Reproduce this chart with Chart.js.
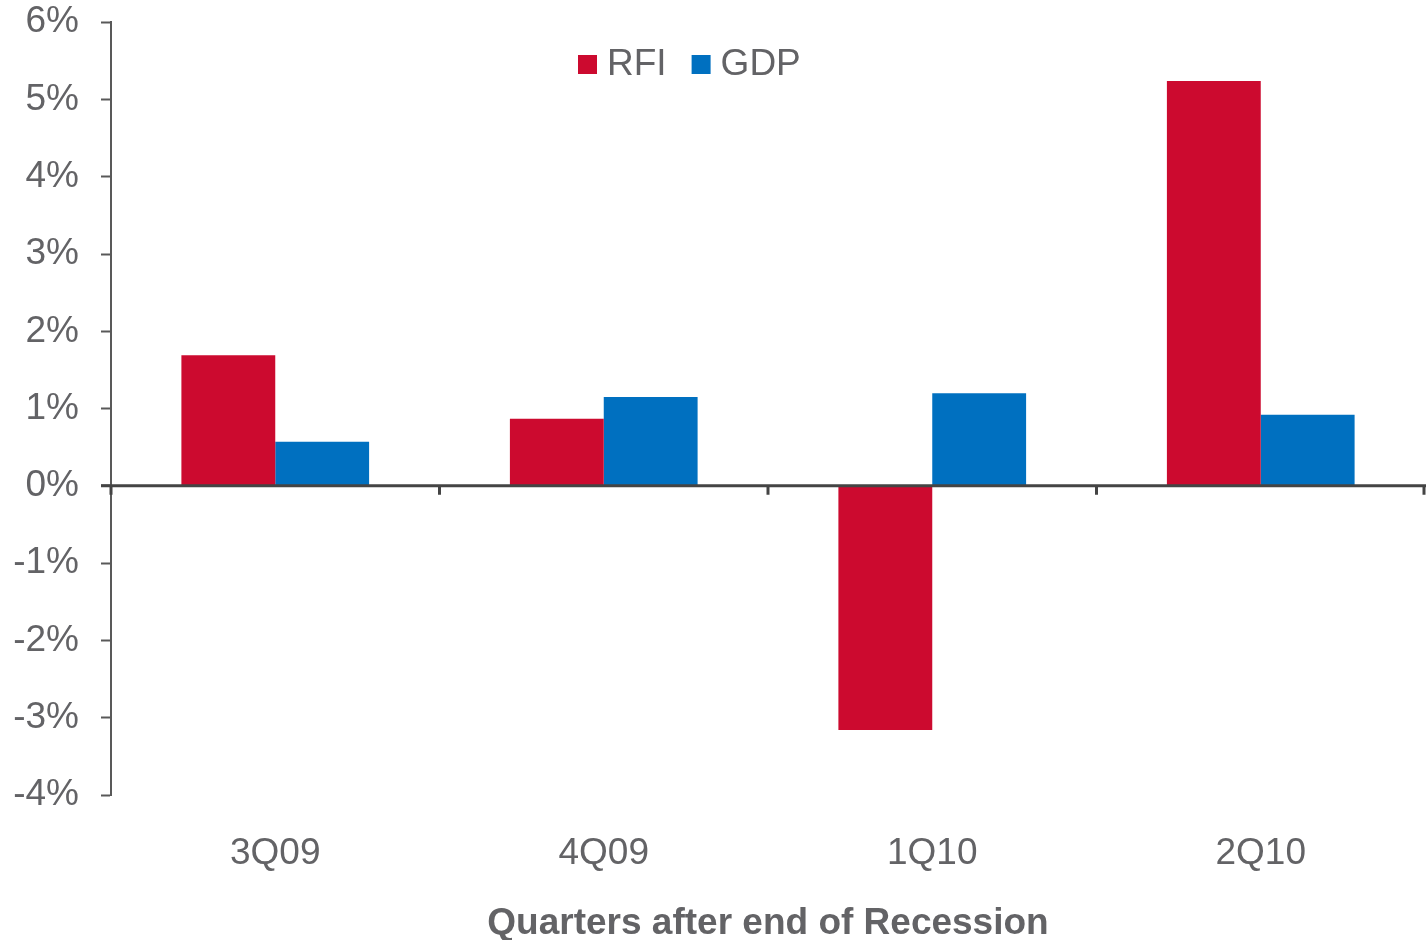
<!DOCTYPE html>
<html>
<head>
<meta charset="utf-8">
<script src="https://cdn.jsdelivr.net/npm/chart.js@4/dist/chart.umd.min.js"></script>
<style>
  html, body { margin: 0; padding: 0; background: #fff; }
  #wrap { width: 1426px; height: 940px; }
</style>
</head>
<body>
<div id="wrap"><canvas id="quarterChart"></canvas></div>
<script>
const quarters = ['3Q09', '4Q09', '1Q10', '2Q10'];
const rfiValues = [1.69, 0.87, -3.16, 5.24];
const gdpValues = [0.57, 1.15, 1.20, 0.92];
const axisTitle = 'Quarters after end of Recession';

const textColor = '#636366';
const fontFamily = '"Liberation Sans", Arial, sans-serif';

// zero line + category tick marks, drawn over the bars
const zeroLine = {
    id: 'zeroLine',
    afterDatasetsDraw(chart) {
        const ctx = chart.ctx;
        const y0 = chart.scales.y.getPixelForValue(0);
        const area = chart.chartArea;
        ctx.save();
        ctx.strokeStyle = '#444444';
        ctx.lineWidth = 3;
        ctx.beginPath();
        ctx.moveTo(area.left - 10, y0);
        ctx.lineTo(area.right + 1, y0);
        const step = (area.right - area.left) / quarters.length;
        for (let i = 0; i <= quarters.length; i++) {
            const px = Math.min(area.left + i * step, area.right - 1);
            ctx.moveTo(px, y0);
            ctx.lineTo(px, y0 + 9);
        }
        ctx.stroke();
        ctx.restore();
    }
};

// legend sits inside the plot, near the top
const innerLegend = {
    id: 'innerLegend',
    afterDraw(chart) {
        const ctx = chart.ctx;
        ctx.save();
        ctx.font = '37px ' + fontFamily;
        ctx.textBaseline = 'middle';
        let px = 578;
        const py = 65;
        chart.data.datasets.forEach(ds => {
            ctx.fillStyle = ds.backgroundColor;
            ctx.fillRect(px, py - 10, 19, 19);
            px += 29;
            ctx.fillStyle = textColor;
            ctx.fillText(ds.label, px, py);
            px += ctx.measureText(ds.label).width + 25;
        });
        ctx.restore();
    }
};

const ctx = document.getElementById('quarterChart').getContext('2d');
const quarterChart = new Chart(ctx, {
    type: 'bar',
    data: {
        labels: quarters,
        datasets: [
            { label: 'RFI', data: rfiValues, backgroundColor: '#CC0A2F' },
            { label: 'GDP', data: gdpValues, backgroundColor: '#0070C0' }
        ]
    },
    options: {
        responsive: true,
        maintainAspectRatio: false,
        animation: false,
        categoryPercentage: 0.5714,
        barPercentage: 1.0,
        layout: { padding: { top: 0, right: 1, left: 0, bottom: 0 } },
        plugins: {
            legend: { display: false },
            tooltip: { enabled: false }
        },
        scales: {
            x: {
                grid: { display: false },
                border: { display: false },
                ticks: {
                    color: textColor,
                    font: { family: fontFamily, size: 37 },
                    padding: 29,
                    maxRotation: 0
                },
                title: {
                    display: true,
                    text: axisTitle,
                    color: textColor,
                    font: { family: fontFamily, size: 37, weight: 'bold', lineHeight: 1 },
                    padding: { top: 0, bottom: -2 }
                },
                afterFit(scale) { scale.height = 145; }
            },
            y: {
                min: -4,
                max: 6,
                grid: {
                    drawOnChartArea: false,
                    tickLength: 10,
                    tickColor: '#595959',
                    tickWidth: 2
                },
                border: { color: '#595959', width: 2 },
                ticks: {
                    stepSize: 1,
                    color: textColor,
                    // tiny line height so the label padding doesn't push the plot down
                    font: { family: fontFamily, size: 37, lineHeight: 0.01 },
                    padding: 22,
                    callback: v => v + '%'
                },
                afterFit(scale) { scale.width = 111; }
            }
        }
    },
    plugins: [zeroLine, innerLegend]
});
</script>
</body>
</html>
